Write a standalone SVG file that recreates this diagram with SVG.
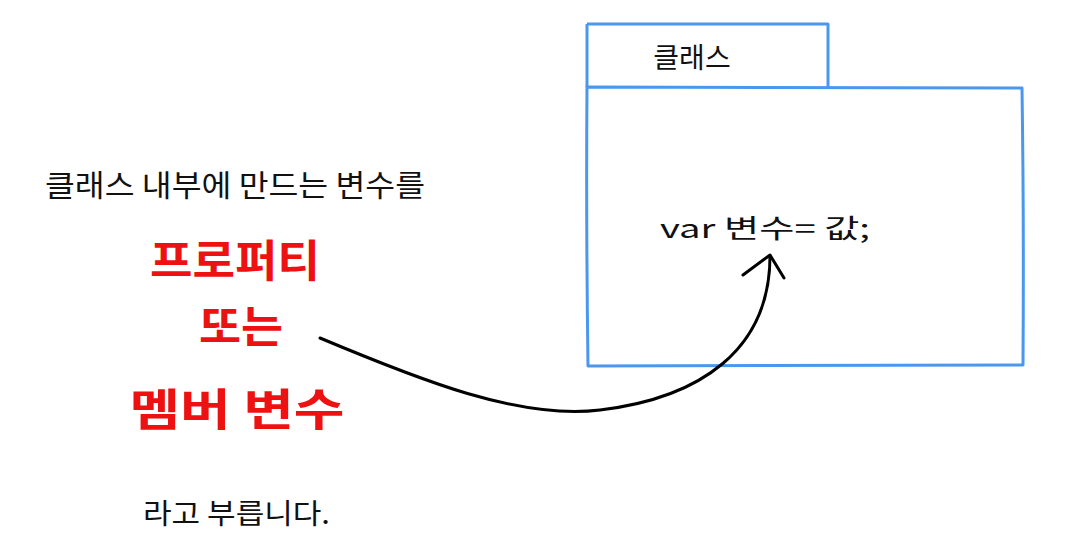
<svg xmlns="http://www.w3.org/2000/svg" width="1082" height="542" viewBox="0 0 1082 542">
<style>
.box{fill:none;stroke:#4a97ee;stroke-width:3;stroke-linejoin:round}
.t{font-family:"Noto Sans CJK KR","Noto Sans",sans-serif;fill:#111}
.r{font-family:"Noto Sans CJK KR","Noto Sans",sans-serif;fill:#ee1111;font-weight:bold;text-anchor:middle}
.conn{fill:none;stroke:#000;stroke-width:3;stroke-linecap:round;stroke-linejoin:round}
</style>
<rect width="1082" height="542" fill="#fff"/>
<g id="class">
  <path class="box" d="M587 24 L828 24 L828 87"/>
  <path class="box" d="M587 24 L587 87"/>
  <path class="box" d="M587 87 L1022 88 Q1024 220 1023 365 L588 366 Q586 220 587 87 Z"/>
  <text class="t" x="692" y="68" font-size="28" text-anchor="middle">클래스</text>
  <text class="t" x="660" y="238" font-size="26" textLength="210" lengthAdjust="spacingAndGlyphs">var 변수= 값;</text>
</g>
<g id="desc">
  <text class="t" x="45" y="196" font-size="30" textLength="380" lengthAdjust="spacingAndGlyphs">클래스 내부에 만드는 변수를</text>
  <text class="r" x="235" y="277" font-size="44" textLength="170" lengthAdjust="spacingAndGlyphs">프로퍼티</text>
  <text class="r" x="241" y="343" font-size="44" textLength="84" lengthAdjust="spacingAndGlyphs">또는</text>
  <text class="r" x="237" y="426" font-size="44" textLength="215" lengthAdjust="spacingAndGlyphs">멤버 변수</text>
  <text class="t" x="143" y="524" font-size="28" textLength="187" lengthAdjust="spacingAndGlyphs">라고 부릅니다.</text>
</g>
<g id="connectors">
  <path class="conn" d="M320 338 C420 380 520 420 600 410 C700 398 770 350 770 256"/>
  <path class="conn" d="M743 275 L770 255 L784 278"/>
</g>
</svg>
